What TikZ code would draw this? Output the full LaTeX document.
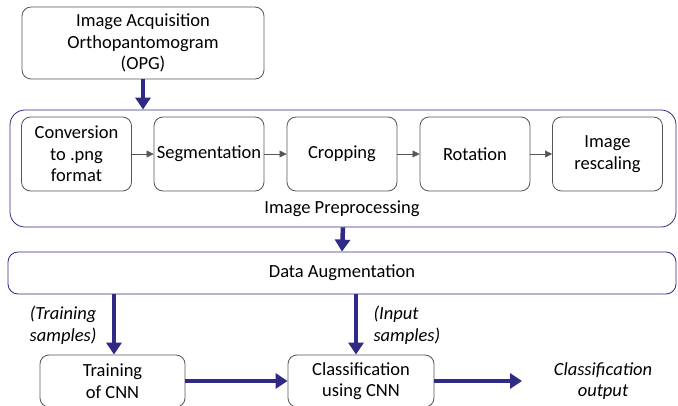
\documentclass[tikz,border=0pt]{standalone}
\usepackage{fontspec}
\setmainfont{Carlito}
\usetikzlibrary{arrows.meta}

\definecolor{navy}{RGB}{47,42,133}
\definecolor{boxgray}{RGB}{85,85,85}

\tikzstyle{stepbox}=[draw=boxgray, thick, rounded corners=9pt, align=center, minimum width=110pt, minimum height=74pt, inner sep=2pt]
\tikzstyle{groupbox}=[draw=navy, thick, rounded corners=15pt, minimum width=666pt, minimum height=117pt]
\tikzstyle{smallstep}=[draw=boxgray, -{Triangle[length=7pt,width=7pt]}]
\tikzstyle{flow}=[draw=navy, line width=4.5pt, -{Triangle[length=12pt,width=15pt]}]
\tikzstyle{note}=[font=\fontsize{18.5}{21.5}\selectfont\itshape, align=center]

\begin{document}
\begin{tikzpicture}[x=1pt, y=-1pt, font=\fontsize{18.5}{21.5}\selectfont]
	\useasboundingbox (0,0) rectangle (678,406);
	\node[stepbox, minimum width=242pt, minimum height=72pt] (acq) at (143,43) {Image Acquisition\\Orthopantomogram\\(OPG)};
	\node[groupbox] (prep) at (343,168.5) {};
	\node (preplabel) at (342,209) {Image Preprocessing};
	\foreach \pos/\name/\txt in {{(76.5,154)/conv/Conversion\\to .png\\format}, {(209,154)/seg/Segmentation}, {(342,154)/crop/Cropping}, {(475,154)/rot/Rotation}, {(607.5,154)/resc/Image\\rescaling}}
		\node[stepbox] (\name) at \pos {\txt};
	\foreach \source/\dest in {conv/seg, seg/crop, crop/rot, rot/resc}
		\path[smallstep] (\source) -- (\dest);
	\node[groupbox, rounded corners=10pt, minimum width=668pt, minimum height=42pt] (aug) at (342,273) {Data Augmentation};
	\node[stepbox, minimum width=145pt, minimum height=52pt] (train) at (112.5,381) {Training\\of CNN};
	\node[stepbox, minimum width=146pt, minimum height=52pt] (cls) at (361,381) {Classification\\using CNN};
	\node[note] (out) at (603,381) {Classification\\output};
	\coordinate (outend) at (522,381);
	\node[note, anchor=east] (trainnote) at (100,325) {(Training\\samples)};
	\node[note, anchor=west, align=left] (inputnote) at (370,325) {(Input\\samples)};

	\path[flow] (acq.south) -- (acq.south |- prep.north);
	\path[flow] (prep.south) -- (aug.north);
	\path[flow] ([xshift=1.5pt]train.north |- aug.south) -- ([xshift=1.5pt]train.north);
	\path[flow] ([xshift=-5pt]cls.north |- aug.south) -- ([xshift=-5pt]cls.north);
	\path[flow] (train) -- (cls);
	\path[flow] (cls) -- (outend);
\end{tikzpicture}
\end{document}
